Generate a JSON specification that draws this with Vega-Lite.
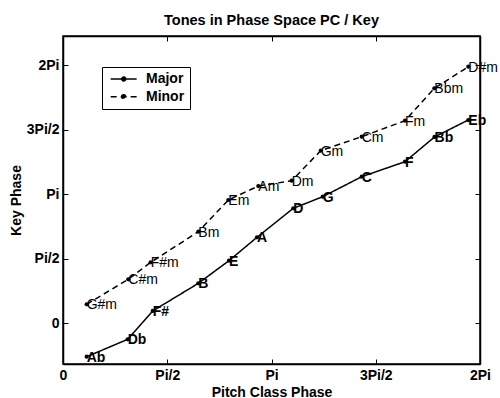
{
  "$schema": "https://vega.github.io/schema/vega-lite/v6.json",
  "width": 417,
  "height": 328,
  "autosize": "none",
  "padding": {"left": 63, "top": 36, "right": 20, "bottom": 34},
  "background": "white",
  "title": {"text": "Tones in Phase Space PC / Key", "font": "Liberation Sans", "fontSize": 14.5, "fontWeight": "bold", "color": "black", "anchor": "middle", "offset": 7},
  "config": {
    "view": {"stroke": "black", "strokeWidth": 1.5},
    "axis": {"grid": false, "domainColor": "black", "domainWidth": 1.5, "tickColor": "black", "tickWidth": 1, "tickSize": -5, "labelFont": "Liberation Sans", "labelFontSize": 14, "labelFontWeight": "bold", "labelColor": "black", "titleFont": "Liberation Sans", "titleFontSize": 14, "titleFontWeight": "bold", "titleColor": "black"}
  },
  "data": {"values": [
    {"key": "Ab", "mode": "Major", "x": 0.357, "y": -0.822},
    {"key": "Db", "mode": "Major", "x": 0.975, "y": -0.398},
    {"key": "F#", "mode": "Major", "x": 1.352, "y": 0.293},
    {"key": "B", "mode": "Major", "x": 2.039, "y": 0.968},
    {"key": "E", "mode": "Major", "x": 2.501, "y": 1.52},
    {"key": "A", "mode": "Major", "x": 2.923, "y": 2.09},
    {"key": "D", "mode": "Major", "x": 3.47, "y": 2.797},
    {"key": "G", "mode": "Major", "x": 3.913, "y": 3.08},
    {"key": "C", "mode": "Major", "x": 4.501, "y": 3.568},
    {"key": "F", "mode": "Major", "x": 5.153, "y": 3.934},
    {"key": "Bb", "mode": "Major", "x": 5.598, "y": 4.537},
    {"key": "Eb", "mode": "Major", "x": 6.107, "y": 4.951},
    {"key": "G#m", "mode": "Minor", "x": 0.357, "y": 0.456},
    {"key": "C#m", "mode": "Minor", "x": 0.984, "y": 1.066},
    {"key": "F#m", "mode": "Minor", "x": 1.321, "y": 1.48},
    {"key": "Bm", "mode": "Minor", "x": 2.039, "y": 2.227},
    {"key": "Em", "mode": "Minor", "x": 2.491, "y": 3.0},
    {"key": "Am", "mode": "Minor", "x": 2.943, "y": 3.341},
    {"key": "Dm", "mode": "Minor", "x": 3.446, "y": 3.471},
    {"key": "Gm", "mode": "Minor", "x": 3.883, "y": 4.203},
    {"key": "Cm", "mode": "Minor", "x": 4.501, "y": 4.544},
    {"key": "Fm", "mode": "Minor", "x": 5.153, "y": 4.934},
    {"key": "Bbm", "mode": "Minor", "x": 5.595, "y": 5.724},
    {"key": "D#m", "mode": "Minor", "x": 6.107, "y": 6.251}
  ]},
  "layer": [
    {
      "mark": {"type": "line", "color": "black", "strokeWidth": 1.5},
      "encoding": {
        "x": {"field": "x", "type": "quantitative", "scale": {"domain": [0, 6.2832], "nice": false, "zero": false},
          "axis": {"orient": "bottom", "title": "Pitch Class Phase", "titlePadding": 3, "values": [0, 1.5708, 3.1416, 4.7124, 6.2832], "labelExpr": "['0','Pi/2','Pi','3Pi/2','2Pi'][round(datum.value/(PI/2))]", "labelPadding": 9, "labelFlush": false}},
        "y": {"field": "y", "type": "quantitative", "scale": {"domain": [-1, 7], "nice": false, "zero": false},
          "axis": {"orient": "left", "title": "Key Phase", "titlePadding": 3, "values": [0, 1.5708, 3.1416, 4.7124, 6.2832], "labelExpr": "['0','Pi/2','Pi','3Pi/2','2Pi'][round(datum.value/(PI/2))]", "labelPadding": 9}},
        "strokeDash": {"field": "mode", "type": "nominal", "scale": {"domain": ["Major", "Minor"], "range": [[1, 0], [6, 4]]},
          "legend": {"title": null, "orient": "none", "legendX": 39, "legendY": 31, "direction": "vertical", "fillColor": "white", "strokeColor": "black", "padding": 5, "labelFont": "Liberation Sans", "labelFontSize": 14, "labelFontWeight": "bold", "labelColor": "black", "labelOffset": 25, "symbolType": "M-0.77,0H5.23M1.77,0A0.46,0.46,0,1,1,2.69,0A0.46,0.46,0,1,1,1.77,0Z", "symbolSize": 75, "symbolStrokeWidth": 1.5, "symbolStrokeColor": "black", "symbolFillColor": "black", "rowPadding": 3.7}}
      }
    },
    {
      "mark": {"type": "point", "filled": true, "color": "black", "size": 18, "opacity": 1},
      "encoding": {
        "x": {"field": "x", "type": "quantitative", "axis": {"orient": "top", "title": null, "labels": false, "values": [0, 1.5708, 3.1416, 4.7124, 6.2832]}},
        "y": {"field": "y", "type": "quantitative", "axis": {"orient": "right", "title": null, "labels": false, "values": [0, 1.5708, 3.1416, 4.7124, 6.2832]}},
        "detail": {"field": "mode", "type": "nominal"}
      }
    },
    {
      "transform": [{"filter": "datum.mode == 'Major'"}],
      "mark": {"type": "text", "align": "left", "baseline": "middle", "dx": 0, "dy": 1, "font": "Liberation Sans", "fontSize": 14, "fontWeight": "bold", "color": "black"},
      "encoding": {
        "x": {"field": "x", "type": "quantitative", "axis": null},
        "y": {"field": "y", "type": "quantitative", "axis": null},
        "text": {"field": "key", "type": "nominal"}
      }
    },
    {
      "transform": [{"filter": "datum.mode == 'Minor'"}],
      "mark": {"type": "text", "align": "left", "baseline": "middle", "dx": 0, "dy": 1, "font": "Liberation Sans", "fontSize": 14, "fontWeight": "normal", "color": "black"},
      "encoding": {
        "x": {"field": "x", "type": "quantitative", "axis": null},
        "y": {"field": "y", "type": "quantitative", "axis": null},
        "text": {"field": "key", "type": "nominal"}
      }
    }
  ],
  "resolve": {"axis": {"x": "independent", "y": "independent"}}
}
